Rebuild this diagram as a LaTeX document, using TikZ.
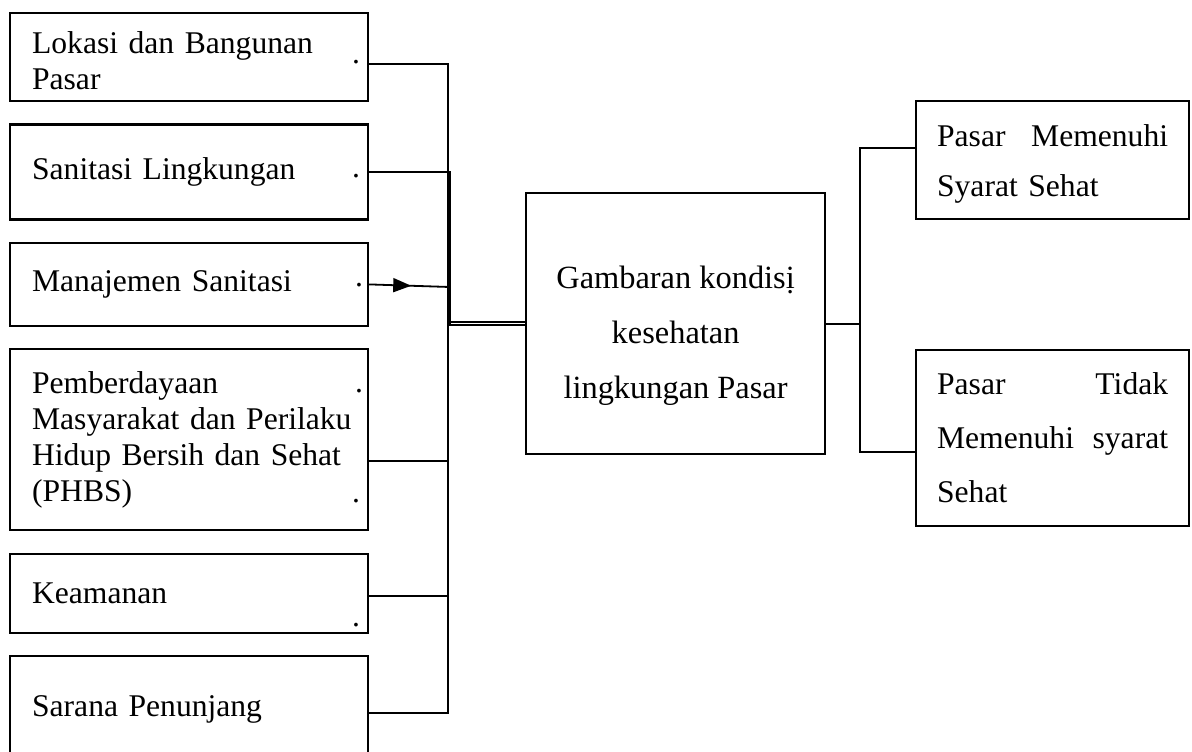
\documentclass[tikz,border=0pt]{standalone}
\usepackage{fontspec}
\setmainfont{Liberation Serif}
\usetikzlibrary{positioning}
\usetikzlibrary{arrows.meta}
\usetikzlibrary{decorations.markings}
\newcommand{\sidefont}{\fontsize{15.8}{18}\selectfont}
\newcommand{\midfont}{\fontsize{16.2}{27.5}\selectfont}
\newcommand{\outfont}{\fontsize{15.8}{27}\selectfont}

\begin{document}
\begin{tikzpicture}[x=0.5pt, y=-0.5pt, node distance=10.6pt,
  factor/.style={draw, line width=1.1pt, rectangle, anchor=north west,
    inner xsep=11pt, inner ysep=0pt, text width=157pt, align=left, font=\sidefont},
  hub/.style={draw, line width=1.1pt, rectangle, anchor=north west,
    inner sep=0pt, align=center, font=\midfont},
  outcome/.style={draw, line width=1.1pt, rectangle, anchor=north west,
    inner xsep=10.5pt, inner ysep=0pt, text width=115.5pt, align=left, font=\outfont},
  dotmark/.style={inner sep=0pt, font=\sidefont},
  link/.style={line width=0.9pt},
  pointer/.style={link, postaction={decorate}, decoration={markings,
    mark=at position 0.52 with {\arrow{Triangle[length=9pt,width=7pt]}}}}]
  \useasboundingbox (0,0) rectangle (1192,751);
  % Factors
  \node[factor, minimum height=44pt] (L1) at (9,12) {\rule{0pt}{15pt}Lokasi dan Bangunan\\Pasar};
  \node[factor, minimum height=47.5pt, below=of L1] (L2) {Sanitasi Lingkungan};
  \node[factor, minimum height=41.5pt, below=of L2] (L3) {Manajemen Sanitasi};
  \node[factor, minimum height=90.5pt, below=of L3] (L4) {Pemberdayaan\\\mbox{Masyarakat dan Perilaku}\\\mbox{Hidup Bersih dan Sehat}\\(PHBS)};
  \node[factor, minimum height=39.5pt, below=of L4] (L5) {Keamanan};
  \node[factor, minimum height=53pt, below=of L5] (L6) {Sarana Penunjang};
  % Centre and outcomes
  \node[hub, minimum width=149.5pt, minimum height=130.5pt] (C) at (525,192) {\rule{0pt}{23pt}Gambaran kondisị\\kesehatan\\lingkungan Pasar};
  \node[outcome, minimum height=59pt, font=\fontsize{15.8}{25}\selectfont] (R1) at (915,100) {\rule{0pt}{15pt}Pasar\hfill Memenuhi\\Syarat Sehat};
  \node[outcome, minimum height=88pt] (R2) at (915,349) {Pasar\hfill Tidak\\Memenuhi\hfill syarat\\Sehat};
  % Stray dots
  \node[dotmark] (d1) at (356,62) {.};
  \node[dotmark] (d2) at (356,176) {.};
  \node[dotmark] (d3) at (359,285) {.};
  \node[dotmark] (d4) at (359,391) {.};
  \node[dotmark] (d5) at (356,501) {.};
  \node[dotmark] (d6) at (356,625) {.};
  % Junctions
  \coordinate (t1) at (448,64);
  \coordinate (t2) at (450,172);
  \coordinate (t3) at (450,287);
  \coordinate (m1) at (448,322);
  \coordinate (m2) at (450,325);
  \coordinate (t4) at (448,461);
  \coordinate (t5) at (448,596);
  \coordinate (t6) at (448,713);
  \coordinate (r1) at (860,148);
  \coordinate (r2) at (860,452);
  % Connectors
  \draw[link] (L1.east |- t1) -- (t1) -- (m1) -- (C.west |- m1);
  \draw[link] (L2.east |- t2) -- (t2) -- (m2) -- (C.west |- m2);
  \draw[pointer] (L3.east) -- (t3);
  \draw[link] (m1) -- (t6) -- (L6.east |- t6);
  \draw[link] (t4) -- (L4.east |- t4);
  \draw[link] (t5) -- (L5.east |- t5);
  \draw[link] (C.east) -- (C.east -| r1);
  \draw[link] (R1.west |- r1) -- (r1) -- (r2) -- (R2.west |- r2);
\end{tikzpicture}
\end{document}
